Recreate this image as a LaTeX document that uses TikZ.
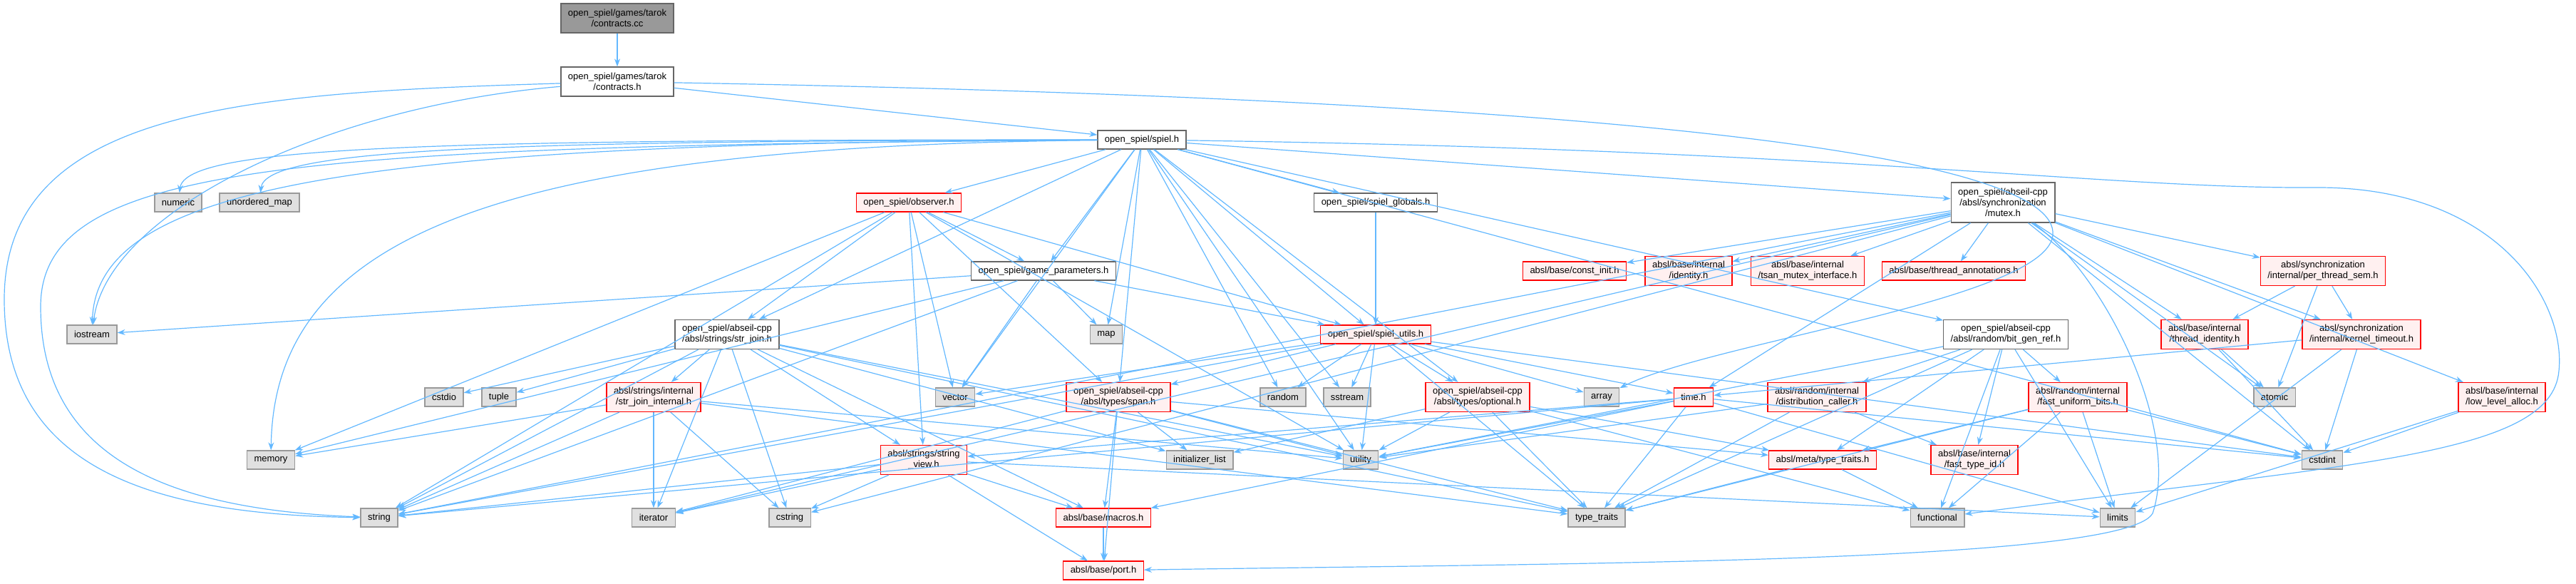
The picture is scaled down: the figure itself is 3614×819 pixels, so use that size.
\documentclass[tikz,border=0pt]{standalone}
\usepackage{fontspec}
\setmainfont{Liberation Sans}
\usetikzlibrary{arrows.meta}
\definecolor{edgeblue}{HTML}{63B8FF}
\definecolor{rootgray}{HTML}{999999}
\definecolor{boxgray}{HTML}{666666}
\definecolor{partfill}{HTML}{FFF0F0}
\definecolor{sysfill}{HTML}{E0E0E0}
\definecolor{sysline}{HTML}{999999}

\tikzset{
  hdr/.style={draw=boxgray, fill=white, line width=1.3pt, inner xsep=10pt,
    inner ysep=0pt, minimum height=26pt, align=center,
    font=\fontsize{13}{15}\selectfont},
  hdrroot/.style={hdr, fill=rootgray},
  hdrred/.style={hdr, draw=red, fill=partfill},
  hdrsys/.style={hdr, draw=sysline, fill=sysfill},
  twolines/.style={minimum height=41pt},
  threelines/.style={minimum height=56pt},
  dep/.style={draw=edgeblue, line width=1.2pt, -{Stealth[length=11pt,width=8pt]}},
}

\begin{document}
\begin{tikzpicture}[x=1pt,y=-1pt]
\useasboundingbox (0,0) rectangle (3614,819);

% top: the file and its header
\node[hdrroot, twolines] (cc) at (866,25.5) {open\_spiel/games/tarok\\/contracts.cc};
\node[hdr, twolines] (ch) at (866,114.5) {open\_spiel/games/tarok\\/contracts.h};
\node[hdr] (spiel) at (1602,196) {open\_spiel/spiel.h};

% rank 3
\node[hdrsys] (numeric) at (250,284) {numeric};
\node[hdrsys] (umap) at (364,284) {unordered\_map};
\node[hdrred] (observer) at (1275,284) {open\_spiel/observer.h};
\node[hdr] (globals) at (1930,284) {open\_spiel/spiel\_globals.h};
\node[hdr, threelines] (mutex) at (2810,284) {open\_spiel/abseil-cpp\\/absl/synchronization\\/mutex.h};

% rank 4
\node[hdr] (gparams) at (1464,380) {open\_spiel/game\_parameters.h};
\node[hdrred] (constinit) at (2209,380) {absl/base/const\_init.h};
\node[hdrred, twolines] (identity) at (2369,380) {absl/base/internal\\/identity.h};
\node[hdrred, twolines] (tsan) at (2536,380) {absl/base/internal\\/tsan\_mutex\_interface.h};
\node[hdrred] (annot) at (2741,380) {absl/base/thread\_annotations.h};
\node[hdrred, twolines] (ptsem) at (3259,380) {absl/synchronization\\/internal/per\_thread\_sem.h};

% rank 5
\node[hdrsys] (iostream) at (129,469) {iostream};
\node[hdr, twolines] (strjoin) at (1020,469) {open\_spiel/abseil-cpp\\/absl/strings/str\_join.h};
\node[hdrsys] (map) at (1552,469) {map};
\node[hdrred] (utils) at (1930,469) {open\_spiel/spiel\_utils.h};
\node[hdr, twolines] (bitgen) at (2814,469) {open\_spiel/abseil-cpp\\/absl/random/bit\_gen\_ref.h};
\node[hdrred, twolines] (tident) at (3093,469) {absl/base/internal\\/thread\_identity.h};
\node[hdrred, twolines] (ktime) at (3313,469) {absl/synchronization\\/internal/kernel\_timeout.h};

% rank 6
\node[hdrsys] (cstdio) at (623,557) {cstdio};
\node[hdrsys] (tuple) at (700,557) {tuple};
\node[hdrred, twolines] (sjinternal) at (917,557) {absl/strings/internal\\/str\_join\_internal.h};
\node[hdrsys] (vector) at (1340,557) {vector};
\node[hdrred, twolines] (span) at (1569,557) {open\_spiel/abseil-cpp\\/absl/types/span.h};
\node[hdrsys] (random) at (1800,557) {random};
\node[hdrsys] (sstream) at (1890,557) {sstream};
\node[hdrred, twolines] (optional) at (2073,557) {open\_spiel/abseil-cpp\\/absl/types/optional.h};
\node[hdrsys] (array) at (2247,557) {array};
\node[hdrred] (timeh) at (2376,557) {time.h};
\node[hdrred, twolines] (distcaller) at (2549,557) {absl/random/internal\\/distribution\_caller.h};
\node[hdrred, twolines] (fastbits) at (2915,557) {absl/random/internal\\/fast\_uniform\_bits.h};
\node[hdrsys] (atomic) at (3191,557) {atomic};
\node[hdrred, twolines] (lowalloc) at (3510,557) {absl/base/internal\\/low\_level\_alloc.h};

% rank 7
\node[hdrsys] (memory) at (380,645) {memory};
\node[hdrred, twolines] (strview) at (1296,645) {absl/strings/string\\\_view.h};
\node[hdrsys] (initlist) at (1683,645) {initializer\_list};
\node[hdrsys] (utility) at (1909,645) {utility};
\node[hdrred] (metatt) at (2557,645) {absl/meta/type\_traits.h};
\node[hdrred, twolines] (fasttypeid) at (2770,645) {absl/base/internal\\/fast\_type\_id.h};
\node[hdrsys] (cstdint) at (3258,645) {cstdint};

% rank 8 and 9
\node[hdrsys] (string) at (532,726) {string};
\node[hdrsys] (iterator) at (917,726) {iterator};
\node[hdrsys] (cstring) at (1108,726) {cstring};
\node[hdrred] (macros) at (1548,726) {absl/base/macros.h};
\node[hdrsys] (typetraits) at (2240,726) {type\_traits};
\node[hdrsys] (functional) at (2718,726) {functional};
\node[hdrsys] (limits) at (2971,726) {limits};
\node[hdrred] (port) at (1548,800) {absl/base/port.h};

% includes of the tarok files
\path (cc) edge[dep] (ch);
\path (ch) edge[dep] (spiel);
\draw[dep] (ch) .. controls (450,150) and (150,300) .. (iostream);
\draw[dep] (ch) .. controls (350,130) and (6,150) .. (6,420)
  .. controls (6,650) and (200,722) .. (string);
\draw[dep] (ch) .. controls (2300,140) and (2890,220) .. (2880,330)
  .. controls (2870,420) and (2400,480) .. (array);

% spiel.h
\path (spiel) edge[dep] (observer) edge[dep] (gparams) edge[dep] (globals)
  edge[dep] (mutex) edge[dep] (utils) edge[dep] (map) edge[dep] (strjoin)
  edge[dep] (vector) edge[dep] (span) edge[dep] (random) edge[dep] (sstream)
  edge[dep] (optional) edge[dep] (utility) edge[dep] (bitgen) edge[dep] (cstdint);
\draw[dep] (spiel) .. controls (600,196) and (260,205) .. (numeric);
\draw[dep] (spiel) .. controls (700,198) and (372,208) .. (umap);
\draw[dep] (spiel) .. controls (500,200) and (135,260) .. (iostream);
\draw[dep] (spiel) .. controls (700,205) and (385,330) .. (memory);
\draw[dep] (spiel) .. controls (400,205) and (57,230) .. (57,430)
  .. controls (57,650) and (250,715) .. (string);
\draw[dep] (spiel) .. controls (2600,210) and (2950,265) .. (3250,263)
  .. controls (3500,262) and (3600,420) .. (3590,520)
  .. controls (3580,640) and (3300,650) .. (functional);

% open_spiel headers
\path (observer) edge[dep] (gparams) edge[dep] (utils) edge[dep] (memory)
  edge[dep] (string) edge[dep] (vector) edge[dep] (strview) edge[dep] (span)
  edge[dep] (utility) edge[dep] (strjoin);
\path (gparams) edge[dep] (map) edge[dep] (utils) edge[dep] (iostream)
  edge[dep] (memory) edge[dep] (string) edge[dep] (vector);
\path (globals) edge[dep] (utils);
\path (utils) edge[dep] (vector) edge[dep] (span) edge[dep] (random)
  edge[dep] (sstream) edge[dep] (optional) edge[dep] (array) edge[dep] (timeh)
  edge[dep] (utility) edge[dep] (typetraits) edge[dep] (string) edge[dep] (cstdint);

% mutex.h
\path (mutex) edge[dep] (constinit) edge[dep] (identity) edge[dep] (tsan)
  edge[dep] (annot) edge[dep] (ptsem) edge[dep] (tident) edge[dep] (ktime)
  edge[dep] (lowalloc) edge[dep] (atomic) edge[dep] (cstdint) edge[dep] (string)
  edge[dep] (iterator) edge[dep] (cstring) edge[dep] (timeh);
\draw[dep] (mutex) .. controls (2950,380) and (3060,600) .. (3020,720)
  .. controls (2980,790) and (2200,790) .. (port);
\path (ptsem) edge[dep] (tident) edge[dep] (atomic) edge[dep] (ktime);
\path (tident) edge[dep] (atomic) edge[dep] (cstdint);
\path (ktime) edge[dep] (cstdint) edge[dep] (timeh) edge[dep] (limits);
\path (lowalloc) edge[dep] (cstdint) edge[dep] (limits);

% strings
\path (strjoin) edge[dep] (cstdio) edge[dep] (tuple) edge[dep] (sjinternal)
  edge[dep] (string) edge[dep] (iterator) edge[dep] (cstring) edge[dep] (initlist)
  edge[dep] (utility) edge[dep] (typetraits) edge[dep] (macros) edge[dep] (strview);
\path (sjinternal) edge[dep] (memory) edge[dep] (string) edge[dep] (iterator)
  edge[dep] (cstring) edge[dep] (typetraits) edge[dep] (utility);
\path (strview) edge[dep] (string) edge[dep] (iterator) edge[dep] (cstring)
  edge[dep] (macros) edge[dep] (port) edge[dep] (limits);

% types and time
\path (span) edge[dep] (initlist) edge[dep] (iterator) edge[dep] (typetraits)
  edge[dep] (utility) edge[dep] (macros) edge[dep] (port) edge[dep] (metatt);
\path (optional) edge[dep] (initlist) edge[dep] (utility) edge[dep] (typetraits)
  edge[dep] (functional) edge[dep] (metatt);
\path (timeh) edge[dep] (strview) edge[dep] (utility) edge[dep] (typetraits)
  edge[dep] (cstdint) edge[dep] (limits) edge[dep] (macros) edge[dep] (string);

% random
\path (bitgen) edge[dep] (distcaller) edge[dep] (fastbits) edge[dep] (fasttypeid)
  edge[dep] (metatt) edge[dep] (limits) edge[dep] (typetraits) edge[dep] (utility)
  edge[dep] (functional);
\path (distcaller) edge[dep] (fasttypeid) edge[dep] (typetraits) edge[dep] (utility);
\path (fastbits) edge[dep] (cstdint) edge[dep] (limits) edge[dep] (metatt)
  edge[dep] (typetraits) edge[dep] (functional);
\path (metatt) edge[dep] (functional) edge[dep] (typetraits);
\path (macros) edge[dep] (port);

\end{tikzpicture}
\end{document}
